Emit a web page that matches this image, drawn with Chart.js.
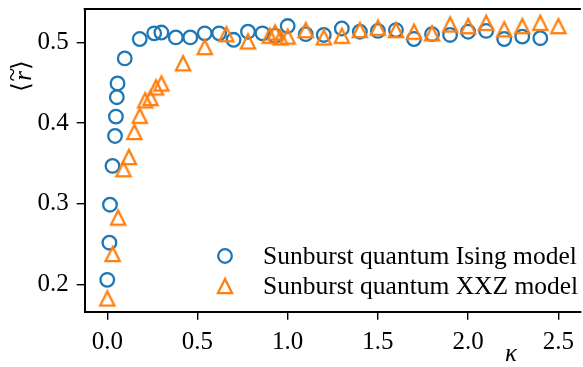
<!DOCTYPE html>
<html>
<head>
<meta charset="utf-8">
<script src="https://cdn.jsdelivr.net/npm/chart.js@4.4.0/dist/chart.umd.min.js"></script>
<style>
  html, body { margin: 0; padding: 0; background: #fff; overflow: hidden; }
  #wrap { width: 590px; height: 367px; }
</style>
</head>
<body>
<div id="wrap"><canvas id="chart" width="590" height="367"></canvas></div>
<script>
// Sunburst models: mean gap ratio vs kappa

const kappaIsing = [0, 0.012, 0.015, 0.029, 0.043, 0.048, 0.053, 0.057, 0.097, 0.18, 0.26, 0.30,
  0.38, 0.46, 0.54, 0.62, 0.70, 0.78, 0.86, 0.93, 1.0, 1.1, 1.2, 1.3, 1.4, 1.5, 1.6, 1.7, 1.8,
  1.9, 2.0, 2.1, 2.2, 2.3, 2.4];
const rIsing = [0.206, 0.252, 0.299, 0.347, 0.384, 0.408, 0.432, 0.449, 0.480, 0.504, 0.511, 0.512,
  0.506, 0.506, 0.511, 0.511, 0.503, 0.513, 0.511, 0.508, 0.520, 0.510, 0.509, 0.517, 0.513, 0.514,
  0.515, 0.504, 0.510, 0.509, 0.513, 0.514, 0.504, 0.507, 0.505];

const kappaXXZ = [0, 0.03, 0.06, 0.09, 0.12, 0.15, 0.18, 0.21, 0.24, 0.27, 0.30, 0.42, 0.54, 0.66,
  0.78, 0.90, 0.93, 0.96, 1.0, 1.1, 1.2, 1.3, 1.4, 1.5, 1.6, 1.7, 1.8, 1.9, 2.0, 2.1, 2.2, 2.3,
  2.4, 2.5];
const rXXZ = [0.183, 0.238, 0.283, 0.343, 0.358, 0.389, 0.409, 0.428, 0.431, 0.444, 0.449, 0.474,
  0.494, 0.510, 0.501, 0.508, 0.512, 0.506, 0.507, 0.515, 0.506, 0.508, 0.515, 0.518, 0.515, 0.513,
  0.511, 0.522, 0.520, 0.524, 0.516, 0.520, 0.524, 0.520];

const xTicks = [0, 0.5, 1.0, 1.5, 2.0, 2.5];
const yTicks = [0.2, 0.3, 0.4, 0.5];
const seriesLabels = ['Sunburst quantum Ising model', 'Sunburst quantum XXZ model'];

const BLUE = '#1f77b4';
const ORANGE = '#ff7f0e';
const SERIF = '"Liberation Serif", "DejaVu Serif", serif';
const TICK_SIZE = 25;
const LEGEND_SIZE = 25.5;

// matplotlib style triangle, centred on its bounding box
function makeTriangle(size, color) {
  const c = document.createElement('canvas');
  c.width = 26; c.height = 26;
  const g = c.getContext('2d');
  const h = size / 2;
  g.translate(13, 13);
  g.beginPath();
  g.moveTo(0, -h);
  g.lineTo(-h, h);
  g.lineTo(h, h);
  g.closePath();
  g.lineJoin = 'miter';
  g.lineWidth = 2.3;
  g.strokeStyle = color;
  g.stroke();
  return c;
}
const triangle = makeTriangle(14.2, ORANGE);

const toPoints = (xs, ys) => xs.map((x, i) => ({ x, y: ys[i] }));

// frame top line, legend and axis labels
const decorations = {
  id: 'decorations',
  afterDraw(chart) {
    const { ctx, chartArea } = chart;
    ctx.save();
    ctx.strokeStyle = '#000';
    ctx.lineWidth = 2;
    ctx.beginPath();
    ctx.moveTo(chartArea.left - 1, chartArea.top);
    ctx.lineTo(chartArea.right, chartArea.top);
    ctx.stroke();

    // legend
    ctx.font = `${LEGEND_SIZE}px ${SERIF}`;
    ctx.fillStyle = '#000';
    ctx.textBaseline = 'middle';
    ctx.textAlign = 'left';
    const rows = [256, 286];
    chart.data.datasets.forEach((ds, i) => {
      const y = rows[i];
      if (ds.pointStyle === 'circle') {
        ctx.beginPath();
        ctx.arc(225, y, ds.pointRadius, 0, Math.PI * 2);
        ctx.lineWidth = ds.pointBorderWidth;
        ctx.strokeStyle = ds.pointBorderColor;
        ctx.stroke();
      } else {
        ctx.drawImage(ds.pointStyle, 225 - 13, y - 13);
      }
      ctx.fillText(ds.label, 263, y + 1);
    });

    // x label
    ctx.font = `italic ${TICK_SIZE}px ${SERIF}`;
    ctx.textAlign = 'center';
    ctx.fillText('κ', 511, 354);

    // y label
    ctx.translate(22, 76);
    ctx.rotate(-Math.PI / 2);
    ctx.font = `${TICK_SIZE}px ${SERIF}`;
    ctx.fillText('⟨', -11, 0);
    ctx.fillText('⟩', 11, 0);
    ctx.font = `italic ${TICK_SIZE}px ${SERIF}`;
    ctx.fillText('r', 0, 2);
    ctx.fillText('~', 1, -9);
    ctx.restore();
  }
};

const axisCommon = {
  type: 'linear',
  grid: { display: true, drawOnChartArea: false, drawTicks: true, tickLength: 8, color: '#000', lineWidth: 1.4 },
  border: { display: true, color: '#000', width: 2 },
  ticks: { color: '#000', font: { family: SERIF, size: TICK_SIZE } },
};

new Chart(document.getElementById('chart'), {
  type: 'scatter',
  data: {
    datasets: [
      {
        label: seriesLabels[0],
        data: toPoints(kappaIsing, rIsing),
        pointStyle: 'circle',
        pointRadius: 6.8,
        pointBorderWidth: 2.3,
        pointBorderColor: BLUE,
        pointBackgroundColor: 'rgba(0,0,0,0)',
        order: 2,
      },
      {
        label: seriesLabels[1],
        data: toPoints(kappaXXZ, rXXZ),
        pointStyle: triangle,
        pointRadius: 7,
        pointBorderColor: ORANGE,
        order: 1,
      },
    ],
  },
  options: {
    responsive: false,
    animation: false,
    events: [],
    layout: { padding: { left: 0, top: 4.7, right: 5.3, bottom: 0 } },
    plugins: { legend: { display: false }, tooltip: { enabled: false } },
    scales: {
      x: {
        ...axisCommon,
        min: -0.125,
        max: 2.625,
        ticks: { ...axisCommon.ticks, padding: 8, maxRotation: 0, callback: v => v.toFixed(1) },
        afterBuildTicks: s => { s.ticks = xTicks.map(value => ({ value })); },
        afterFit: s => { s.height = 367 - 311.7; s.paddingLeft = 0; s.paddingRight = 0; },
      },
      y: {
        ...axisCommon,
        min: 0.1666,
        max: 0.541,
        ticks: { ...axisCommon.ticks, padding: 8, callback: v => v.toFixed(1) },
        afterBuildTicks: s => { s.ticks = yTicks.map(value => ({ value })); },
        afterFit: s => { s.width = 84.7; s.paddingTop = 0; s.paddingBottom = 0; },
      },
    },
  },
  plugins: [decorations],
});
</script>
</body>
</html>
